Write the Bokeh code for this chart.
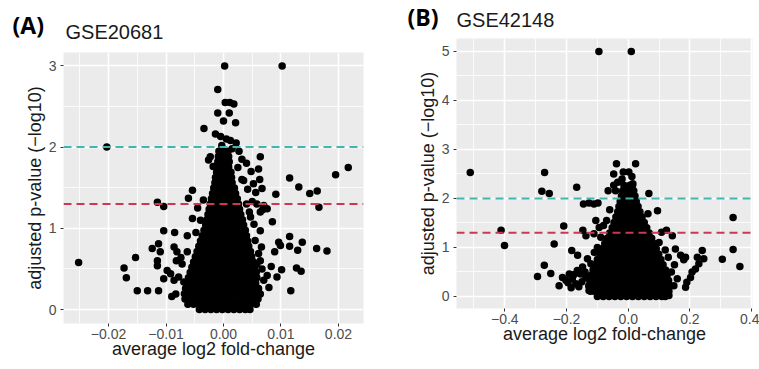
from bokeh.plotting import figure
from bokeh.models import Span, FixedTicker, Range1d
from bokeh.layouts import row, column
from bokeh.core.properties import value
from bokeh.embed import file_html
from bokeh.resources import INLINE

# ---------------- Panel A : GSE20681 ----------------
a_tag = "(A)"
a_title = "GSE20681"
a_xticks = [-0.02, -0.01, 0.0, 0.01, 0.02]
a_xlabels = ["\u22120.02", "\u22120.01", "0.00", "0.01", "0.02"]
a_xminor = [-0.025, -0.015, -0.005, 0.005, 0.015]
a_yticks = [0, 1, 2, 3]
a_ylabels = ["0", "1", "2", "3"]
a_yminor = [0.5, 1.5, 2.5]

# dense core of genes, row by row (y, list of x)
a_core = [
    (0.00, [-0.0042, -0.0032, -0.0022, -0.0012, -0.0002, 0.0008, 0.0018, 0.0028, 0.0038, 0.0046]),
    (0.065, [-0.0062, -0.0052, -0.0042, -0.0032, -0.0022, -0.0012, -0.0002, 0.0008, 0.0018, 0.0028, 0.0038, 0.0048, 0.0057]),
    (0.13, [-0.0067, -0.0057, -0.0047, -0.0037, -0.0027, -0.0017, -0.0007, 0.0003, 0.0013, 0.0023, 0.0033, 0.0043, 0.0053, 0.0060]),
    (0.195, [-0.0068, -0.0058, -0.0048, -0.0038, -0.0028, -0.0018, -0.0008, 0.0002, 0.0012, 0.0022, 0.0032, 0.0042, 0.0052, 0.0061]),
    (0.26, [-0.0066, -0.0056, -0.0046, -0.0036, -0.0026, -0.0016, -0.0006, 0.0004, 0.0014, 0.0024, 0.0034, 0.0044, 0.0054, 0.0061]),
    (0.325, [-0.0064, -0.0054, -0.0044, -0.0034, -0.0024, -0.0014, -0.0004, 0.0006, 0.0016, 0.0026, 0.0036, 0.0046, 0.0056]),
    (0.39, [-0.0061, -0.0051, -0.0041, -0.0031, -0.0021, -0.0011, -0.0001, 0.0009, 0.0019, 0.0029, 0.0039, 0.0049, 0.0058]),
    (0.455, [-0.0058, -0.0048, -0.0038, -0.0028, -0.0018, -0.0008, 0.0002, 0.0012, 0.0022, 0.0032, 0.0042, 0.0052, 0.0057]),
    (0.52, [-0.0055, -0.0045, -0.0035, -0.0025, -0.0015, -0.0005, 0.0005, 0.0015, 0.0025, 0.0035, 0.0045, 0.0054]),
    (0.585, [-0.0052, -0.0042, -0.0032, -0.0022, -0.0012, -0.0002, 0.0008, 0.0018, 0.0028, 0.0038, 0.0048, 0.0052]),
    (0.65, [-0.0049, -0.0039, -0.0029, -0.0019, -0.0009, 0.0001, 0.0011, 0.0021, 0.0031, 0.0041, 0.0049]),
    (0.715, [-0.0046, -0.0036, -0.0026, -0.0016, -0.0006, 0.0004, 0.0014, 0.0024, 0.0034, 0.0044, 0.0047]),
    (0.78, [-0.0043, -0.0033, -0.0023, -0.0013, -0.0003, 0.0007, 0.0017, 0.0027, 0.0037, 0.0044]),
    (0.845, [-0.0040, -0.0030, -0.0020, -0.0010, 0.0000, 0.0010, 0.0020, 0.0030, 0.0040, 0.0042]),
    (0.91, [-0.0037, -0.0027, -0.0017, -0.0007, 0.0003, 0.0013, 0.0023, 0.0033, 0.0040]),
    (0.975, [-0.0034, -0.0024, -0.0014, -0.0004, 0.0006, 0.0016, 0.0026, 0.0036, 0.0038]),
    (1.04, [-0.0031, -0.0021, -0.0011, -0.0001, 0.0009, 0.0019, 0.0029, 0.0035]),
    (1.105, [-0.0029, -0.0019, -0.0009, 0.0001, 0.0011, 0.0021, 0.0031, 0.0033]),
    (1.17, [-0.0027, -0.0017, -0.0007, 0.0003, 0.0013, 0.0023, 0.0030]),
    (1.235, [-0.0025, -0.0015, -0.0005, 0.0005, 0.0015, 0.0025, 0.0028]),
    (1.30, [-0.0023, -0.0013, -0.0003, 0.0007, 0.0017, 0.0026]),
    (1.365, [-0.0021, -0.0011, -0.0001, 0.0009, 0.0019, 0.0024]),
    (1.43, [-0.0019, -0.0009, 0.0001, 0.0011, 0.0021]),
    (1.495, [-0.0017, -0.0007, 0.0003, 0.0013, 0.0019]),
    (1.56, [-0.0015, -0.0005, 0.0005, 0.0015]),
    (1.625, [-0.0014, -0.0004, 0.0006, 0.0014]),
    (1.69, [-0.0012, -0.0002, 0.0008, 0.0013]),
    (1.755, [-0.0011, -0.0001, 0.0009]),
    (1.82, [-0.0010, 0.0000, 0.0010]),
    (1.885, [-0.0009, 0.0001, 0.0009]),
    (1.95, [-0.0008, 0.0002, 0.0008]),
]

# scattered genes (x, y)
a_scatter = [
    (0.0002, 3.0), (0.0102, 3.0), (-0.0203, 2.0), (-0.0252, 0.58),
    (-0.0010, 2.71), (-0.0034, 2.23), (0.0003, 2.55), (0.0011, 2.55), (0.0018, 2.53),
    (-0.0010, 2.42), (0.0010, 2.42), (0.0000, 2.32), (0.0021, 2.30),
    (-0.0014, 2.16), (-0.0005, 2.13), (0.0005, 2.10), (0.0012, 2.08), (0.0022, 2.05),
    (-0.0003, 2.02), (0.0015, 1.98), (0.0027, 1.95), (-0.0026, 1.84), (-0.0023, 1.88),
    (0.0032, 1.85), (0.0040, 1.80), (0.0025, 1.75), (-0.0018, 1.76),
    (0.0064, 1.88), (0.0061, 1.73), (0.0063, 1.60), (0.0048, 1.70), (0.0052, 1.55),
    (0.0035, 1.59), (0.0056, 1.44), (0.0067, 1.49), (0.0042, 1.48),
    (0.0115, 1.62), (0.0195, 1.66), (0.0217, 1.75), (0.0131, 1.51), (0.0150, 1.43),
    (0.0163, 1.46), (0.0166, 1.26), (0.0091, 1.42),
    (0.0085, 1.08), (0.0115, 0.90), (0.0115, 0.78), (0.0137, 0.83), (0.0129, 0.73),
    (0.0162, 0.75), (0.0180, 0.72), (0.0096, 0.83), (0.0089, 0.71), (0.0099, 0.79),
    (0.0127, 0.51), (0.0135, 0.47), (0.0101, 0.49), (0.0083, 0.53), (0.0093, 0.40),
    (0.0076, 0.42), (0.0067, 0.50), (0.0070, 0.36), (0.0117, 0.23),
    (0.0064, 0.19), (0.0053, 0.13), (0.0079, 0.27), (0.0064, 0.60), (0.0058, 0.56),
    (0.0061, 0.69), (0.0066, 0.77), (0.0055, 0.85), (0.0064, 0.97), (0.0053, 1.05),
    (0.0047, 1.14), (0.0064, 1.20), (0.0076, 1.24), (0.0070, 1.28),
    (0.0058, 1.30), (0.0050, 1.33), (0.0068, 1.23),
    (-0.0115, 1.32), (-0.0104, 1.27), (-0.0054, 1.47), (-0.0061, 1.37), (-0.0054, 1.12),
    (-0.0104, 0.97), (-0.0085, 0.95), (-0.0063, 0.91),
    (-0.0124, 0.75), (-0.0113, 0.81), (-0.0110, 0.71), (-0.0115, 0.60), (-0.0115, 0.54),
    (-0.0153, 0.64), (-0.0173, 0.51), (-0.0169, 0.39),
    (-0.0150, 0.23), (-0.0132, 0.23), (-0.0113, 0.23),
    (-0.0086, 0.77), (-0.0081, 0.71), (-0.0074, 0.64), (-0.0082, 0.60), (-0.0072, 0.56),
    (-0.0063, 0.71), (-0.0098, 0.48), (-0.0092, 0.44), (-0.0104, 0.38), (-0.0086, 0.36),
    (-0.0078, 0.40), (-0.0069, 0.34), (-0.0083, 0.19), (-0.0066, 0.19), (-0.0057, 0.13),
    (-0.0090, 0.16), (-0.0045, 1.25), (-0.0040, 1.10), (-0.0048, 0.95), (-0.0035, 1.35),
    (0.0040, 1.30), (0.0045, 1.20), (0.0032, 1.60),
]

# ---------------- Panel B : GSE42148 ----------------
b_tag = "(B)"
b_title = "GSE42148"
b_xticks = [-0.4, -0.2, 0.0, 0.2, 0.4]
b_xlabels = ["\u22120.4", "\u22120.2", "0.0", "0.2", "0.4"]
b_xminor = [-0.5, -0.3, -0.1, 0.1, 0.3]
b_yticks = [0, 1, 2, 3, 4, 5]
b_ylabels = ["0", "1", "2", "3", "4", "5"]
b_yminor = [0.5, 1.5, 2.5, 3.5, 4.5]

b_core = [
    (0.00, [-0.100, -0.081, -0.062, -0.043, -0.024, -0.005, 0.014, 0.033, 0.052, 0.071, 0.090, 0.109, 0.120]),
    (0.108, [-0.122, -0.110, -0.091, -0.072, -0.053, -0.034, -0.015, 0.004, 0.023, 0.042, 0.061, 0.080, 0.099, 0.118, 0.132]),
    (0.216, [-0.128, -0.119, -0.100, -0.081, -0.062, -0.043, -0.024, -0.005, 0.014, 0.033, 0.052, 0.071, 0.090, 0.109, 0.128, 0.136]),
    (0.324, [-0.125, -0.110, -0.091, -0.072, -0.053, -0.034, -0.015, 0.004, 0.023, 0.042, 0.061, 0.080, 0.099, 0.118, 0.131]),
    (0.432, [-0.120, -0.100, -0.081, -0.062, -0.043, -0.024, -0.005, 0.014, 0.033, 0.052, 0.071, 0.090, 0.109, 0.126]),
    (0.54, [-0.114, -0.095, -0.076, -0.057, -0.038, -0.019, 0.000, 0.019, 0.038, 0.057, 0.076, 0.095, 0.114, 0.121]),
    (0.648, [-0.107, -0.090, -0.071, -0.052, -0.033, -0.014, 0.005, 0.024, 0.043, 0.062, 0.081, 0.100, 0.113]),
    (0.756, [-0.100, -0.081, -0.062, -0.043, -0.024, -0.005, 0.014, 0.033, 0.052, 0.071, 0.090, 0.106]),
    (0.864, [-0.092, -0.075, -0.056, -0.037, -0.018, 0.001, 0.020, 0.039, 0.058, 0.077, 0.096, 0.099]),
    (0.972, [-0.084, -0.066, -0.047, -0.028, -0.009, 0.010, 0.029, 0.048, 0.067, 0.086, 0.091]),
    (1.08, [-0.076, -0.057, -0.038, -0.019, 0.000, 0.019, 0.038, 0.057, 0.076, 0.083]),
    (1.188, [-0.068, -0.050, -0.031, -0.012, 0.007, 0.026, 0.045, 0.064, 0.076]),
    (1.296, [-0.060, -0.041, -0.022, -0.003, 0.016, 0.035, 0.054, 0.068]),
    (1.404, [-0.052, -0.033, -0.014, 0.005, 0.024, 0.043, 0.060]),
    (1.512, [-0.046, -0.027, -0.008, 0.011, 0.030, 0.049, 0.052]),
    (1.62, [-0.040, -0.021, -0.002, 0.017, 0.036, 0.045]),
    (1.728, [-0.034, -0.015, 0.004, 0.023, 0.038]),
    (1.836, [-0.030, -0.011, 0.008, 0.027, 0.032]),
    (1.944, [-0.026, -0.007, 0.012, 0.026]),
    (2.052, [-0.022, -0.003, 0.016, 0.022]),
    (2.16, [-0.018, 0.001, 0.018]),
    (2.268, [-0.014, 0.005, 0.014]),
]

b_scatter = [
    (-0.095, 5.0), (0.010, 5.0), (-0.512, 2.53), (-0.271, 2.53), (-0.280, 2.15),
    (-0.256, 2.10), (-0.167, 2.23),
    (-0.145, 1.89), (-0.127, 1.91), (-0.111, 1.89), (-0.098, 1.91), (-0.065, 2.16),
    (-0.038, 2.71), (-0.047, 2.50), (-0.034, 2.33), (0.024, 2.71), (-0.016, 2.54),
    (0.002, 2.54), (0.012, 2.45), (-0.020, 2.40), (0.015, 2.30),
    (0.067, 2.10), (0.095, 1.75), (0.064, 1.69), (-0.060, 1.77), (-0.047, 2.27),
    (-0.041, 2.16), (-0.070, 1.55), (-0.080, 1.45),
    (-0.209, 1.44), (-0.412, 1.35), (-0.401, 1.04), (-0.240, 1.07), (-0.147, 1.35),
    (-0.137, 1.24), (-0.105, 1.55), (-0.094, 1.41), (-0.111, 1.28), (-0.089, 1.21),
    (0.143, 1.24), (0.124, 1.35), (0.108, 1.31), (0.153, 0.97), (0.170, 0.84),
    (0.180, 0.75), (0.186, 0.80),
    (0.224, 0.80), (0.240, 0.94), (0.245, 0.77), (0.229, 0.67), (0.218, 0.56),
    (0.207, 0.50), (0.202, 0.39), (0.190, 0.29), (0.186, 0.19),
    (0.305, 0.76), (0.340, 0.96), (0.340, 1.61), (0.362, 0.61),
    (-0.294, 0.41), (-0.272, 0.64), (-0.251, 0.47), (-0.224, 0.22), (-0.202, 0.33),
    (-0.191, 0.46), (-0.213, 0.39), (-0.181, 0.36), (-0.165, 0.53), (-0.148, 0.60),
    (-0.154, 0.46), (-0.170, 0.26),
    (-0.132, 0.77), (-0.121, 0.67), (-0.137, 0.39), (-0.116, 0.22), (-0.127, 0.12),
    (-0.183, 0.94), (-0.164, 0.84),
    (0.132, 0.02), (0.148, 0.22), (0.159, 0.36), (0.140, 0.50), (0.150, 0.65),
    (0.130, 0.80), (0.120, 0.95), (0.100, 1.10), (-0.100, 1.00), (-0.110, 0.90),
    (-0.195, 0.28), (-0.185, 0.18), (-0.160, 0.20), (-0.150, 0.30), (-0.140, 0.50),
    (-0.175, 0.45),
]

thresholds = [2.0, 1.3]

x_label = "average log2 fold-change"
y_label = "adjusted p-value (\u2212log10)"


def flatten(core, scatter):
    xs, ys = [], []
    for yv, row_x in core:
        for xv in row_x:
            xs.append(xv)
            ys.append(yv)
    for xv, yv in scatter:
        xs.append(xv)
        ys.append(yv)
    return xs, ys


def header(width, height, tag, title, tag_x, tag_y, title_x, title_y):
    # header strip; x/y in pixels of this strip
    h = figure(width=width, height=height, x_range=Range1d(0, width),
               y_range=Range1d(height, 0), x_axis_type=None, y_axis_type=None,
               min_border=0, toolbar_location=None, output_backend="svg")
    h.outline_line_color = None
    h.background_fill_color = "white"
    h.border_fill_color = "white"
    h.text(x=[tag_x], y=[tag_y], text=[tag], text_font=value("Open Sans"),
           text_font_style="bold", text_font_size="23px", text_color="black",
           text_baseline="middle", text_align="left")
    h.text(x=[title_x], y=[title_y], text=[title], text_font=value("Liberation Sans"),
           text_font_size="20px", text_color="#1A1A1A",
           text_baseline="middle", text_align="left")
    return h


def panel(core, scatter, xticks, xlabels, xminor, yticks, ylabels, yminor,
          xr, yr, fw, fh, bl, bt, br, bb):
    p = figure(frame_width=fw, frame_height=fh, x_range=xr, y_range=yr,
               output_backend="svg", toolbar_location=None,
               min_border_left=bl, min_border_top=bt, min_border_right=br,
               min_border_bottom=bb)
    p.background_fill_color = "#EBEBEB"
    p.border_fill_color = "white"
    p.outline_line_color = None

    p.xaxis.ticker = FixedTicker(ticks=xticks, minor_ticks=xminor)
    p.yaxis.ticker = FixedTicker(ticks=yticks, minor_ticks=yminor)
    p.xaxis.major_label_overrides = {t: l for t, l in zip(xticks, xlabels)}
    p.yaxis.major_label_overrides = {t: l for t, l in zip(yticks, ylabels)}

    for ax in (p.xaxis[0], p.yaxis[0]):
        ax.axis_line_color = None
        ax.major_tick_line_color = "#333333"
        ax.major_tick_line_width = 1
        ax.major_tick_in = 0
        ax.major_tick_out = 3
        ax.minor_tick_line_color = None
        ax.major_label_text_font = "Liberation Sans"
        ax.major_label_text_font_size = "14px"
        ax.major_label_text_color = "#4D4D4D"
        ax.axis_label_text_font = "Liberation Sans"
        ax.axis_label_text_font_size = "18px"
        ax.axis_label_text_font_style = "normal"
        ax.axis_label_text_color = "#1A1A1A"
    p.xaxis.major_label_standoff = 1
    p.yaxis.major_label_standoff = 3
    p.xaxis.axis_label_standoff = -3
    p.yaxis.axis_label_standoff = 1
    p.xaxis.axis_label = x_label
    p.yaxis.axis_label = y_label

    for g in (p.xgrid[0], p.ygrid[0]):
        g.grid_line_color = "white"
        g.grid_line_width = 1.6
        g.minor_grid_line_color = "white"
        g.minor_grid_line_width = 0.8

    xs, ys = flatten(core, scatter)
    p.scatter(xs, ys, size=7.5, fill_color="black", line_color=None)

    p.add_layout(Span(location=thresholds[0], dimension="width",
                      line_color="#3DB7B0", line_dash="8 5", line_width=2))
    p.add_layout(Span(location=thresholds[1], dimension="width",
                      line_color="#CC3752", line_dash="8 5", line_width=2))
    return p


HA = 48
HB = 34
ha = header(380, HA, a_tag, a_title, 12, 24, 65, 31)
hb = header(379, HB, b_tag, b_title, 407 - 380, 16, 456 - 380, 19)

pa = panel(a_core, a_scatter, a_xticks, a_xlabels, a_xminor, a_yticks, a_ylabels, a_yminor,
           (-0.02783, 0.02435), (-0.172, 3.165), 300, 271, 63, 52 - HA, 17, 46)
pb = panel(b_core, b_scatter, b_xticks, b_xlabels, b_xminor, b_yticks, b_ylabels, b_yminor,
           (-0.5566, 0.4029), (-0.245, 5.265), 296, 270, 76, 38 - HB, 7, 61)

# nested single-child columns keep Bokeh from aligning the frames to each other
layout = row(column(column(ha), column(pa)), column(column(hb), column(pb)))
open("out.html", "w").write(file_html(layout, INLINE))
